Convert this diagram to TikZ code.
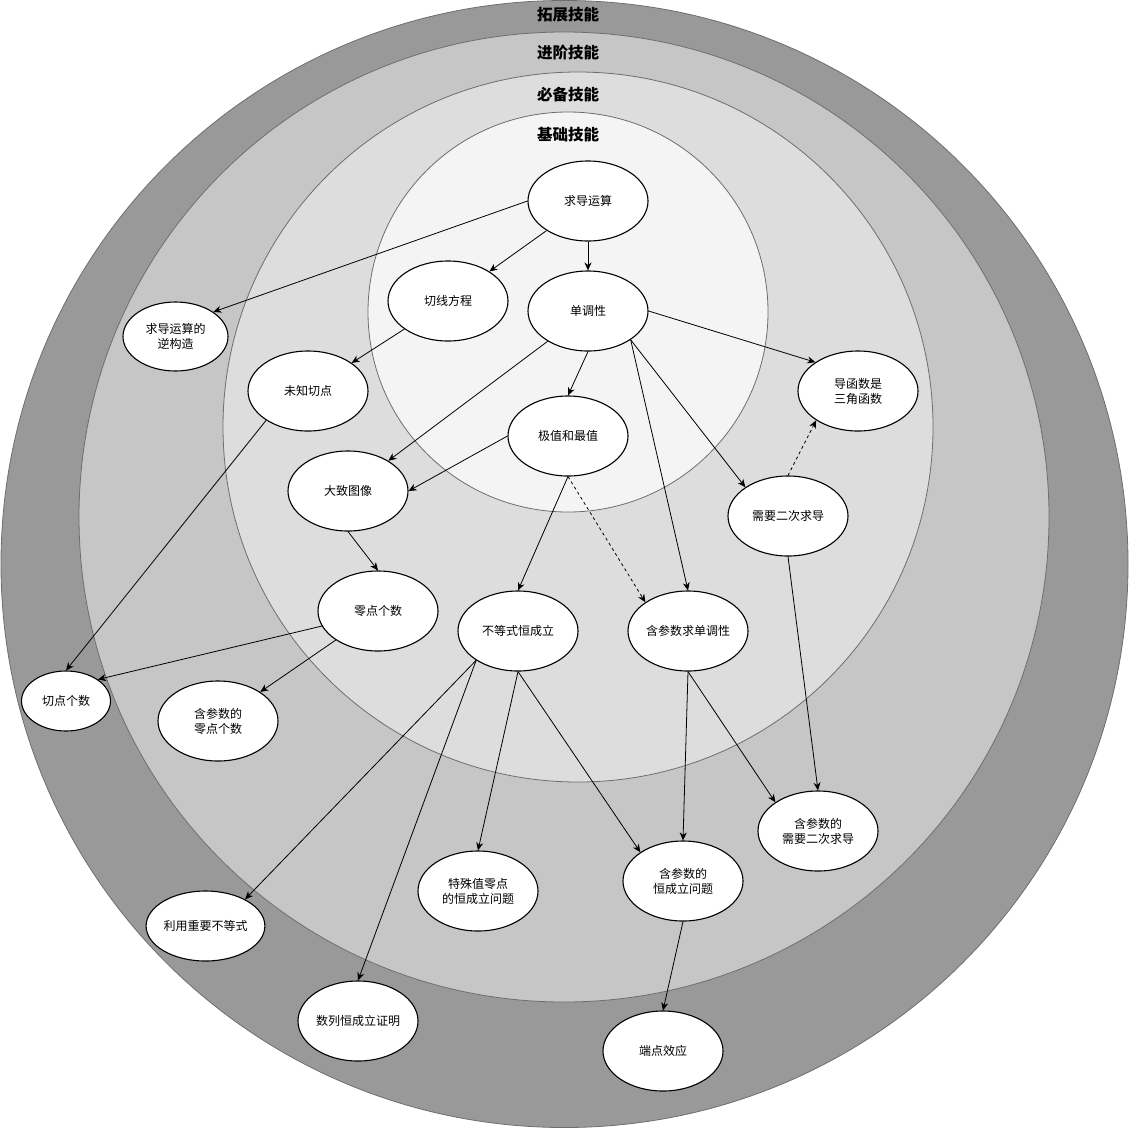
\documentclass[tikz,border=0pt]{standalone}
\usepackage{fontspec}
\newfontfamily\cjk{Noto Sans CJK SC}
\usetikzlibrary{arrows.meta,shapes.geometric}
\definecolor{ringA}{HTML}{999999}
\definecolor{ringB}{HTML}{C6C6C6}
\definecolor{ringC}{HTML}{DDDDDD}
\definecolor{ringD}{HTML}{F4F4F4}
\definecolor{ringline}{HTML}{6E6E6E}
\begin{document}
\begin{tikzpicture}[x=1pt,y=-1pt,
  ring/.style={draw=ringline, line width=0.8pt},
  topic/.style={ellipse, draw=black, line width=1.1pt, fill=white,
    minimum width=120pt, minimum height=80pt, inner sep=0pt, align=center,
    font=\cjk\fontsize{12}{15}\selectfont},
  lvl/.style={inner sep=0pt, font=\cjk\bfseries\fontsize{15.5}{18}\selectfont},
  link/.style={draw=black, line width=0.8pt,
    -{Stealth[length=8pt,width=7pt,inset=2.5pt]}},
  hint/.style={link, dash pattern=on 3pt off 3pt}
]
\useasboundingbox (0,0) rectangle (1129,1128);

% nested skill rings
\draw[ring, fill=ringA] (564.5,564) circle[radius=563.5pt];
\draw[ring, fill=ringB] (564,517) circle[radius=485pt];
\draw[ring, fill=ringC] (578,427) circle[radius=355pt];
\draw[ring, fill=ringD] (568,312) circle[radius=200pt];

% ring titles
\node[lvl] (t1) at (568,15)  {拓展技能};
\node[lvl] (t2) at (568,53)  {进阶技能};
\node[lvl] (t3) at (568,95)  {必备技能};
\node[lvl] (t4) at (568,135) {基础技能};

% topics
\node[topic] (qd) at (588,201) {求导运算};
\node[topic] (qx) at (448,301) {切线方程};
\node[topic] (dd) at (588,311) {单调性};
\node[topic, minimum width=105pt, minimum height=69pt] (nz) at (175.5,336.5) {求导运算的\\逆构造};
\node[topic] (wz) at (308,391) {未知切点};
\node[topic] (sj) at (858,391) {导函数是\\三角函数};
\node[topic] (jz) at (568,436) {极值和最值};
\node[topic] (dz) at (348,491) {大致图像};
\node[topic] (ec) at (788,516) {需要二次求导};
\node[topic] (ld) at (378,611) {零点个数};
\node[topic] (bd) at (518,631) {不等式恒成立};
\node[topic] (hs) at (688,631) {含参数求单调性};
\node[topic, minimum width=89pt, minimum height=60pt] (qg) at (66,701) {切点个数};
\node[topic] (hl) at (218,721) {含参数的\\零点个数};
\node[topic] (he) at (818,831) {含参数的\\需要二次求导};
\node[topic] (ts) at (478,891) {特殊值零点\\的恒成立问题};
\node[topic] (hh) at (683,881) {含参数的\\恒成立问题};
\node[topic, minimum width=105pt, minimum height=70pt] (ly) at (205.5,926) {利用重要不等式};
\node[topic] (sl) at (358,1021) {数列恒成立证明};
\node[topic] (dx) at (663,1051) {端点效应};

% dependencies
\draw[link] (qd.west) -- (nz.33);
\draw[link] (qd) -- (qx);
\draw[link] (qd) -- (dd);
\draw[link] (qx) -- (wz);
\draw[link] (dd.south) -- (jz.north);
\draw[link] (dd) -- (dz);
\draw[link] (dd.east) -- (sj.146);
\draw[link] (dd.-34) -- (ec.146);
\draw[link] (dd.-34) -- (hs.north);
\draw[link] (jz.west) -- (dz.east);
\draw[link] (jz.south) -- (bd.north);
\draw[hint] (jz.south) -- (hs.146);
\draw[link] (dz.south) -- (ld.north);
\draw[link] (wz.215) -- (qg.north);
\draw[link] (ld.195) -- (qg.34);
\draw[link] (ld) -- (hl);
\draw[link] (bd.215) -- (ly.34);
\draw[link] (bd.215) -- (sl.north);
\draw[link] (bd.south) -- (ts.north);
\draw[link] (bd.south) -- (hh.146);
\draw[link] (hs.south) -- (he.146);
\draw[link] (hs.south) -- (hh.north);
\draw[link] (ec.south) -- (he.north);
\draw[hint] (ec.north) -- (sj.215);
\draw[link] (hh.south) -- (dx.north);
\end{tikzpicture}
\end{document}
